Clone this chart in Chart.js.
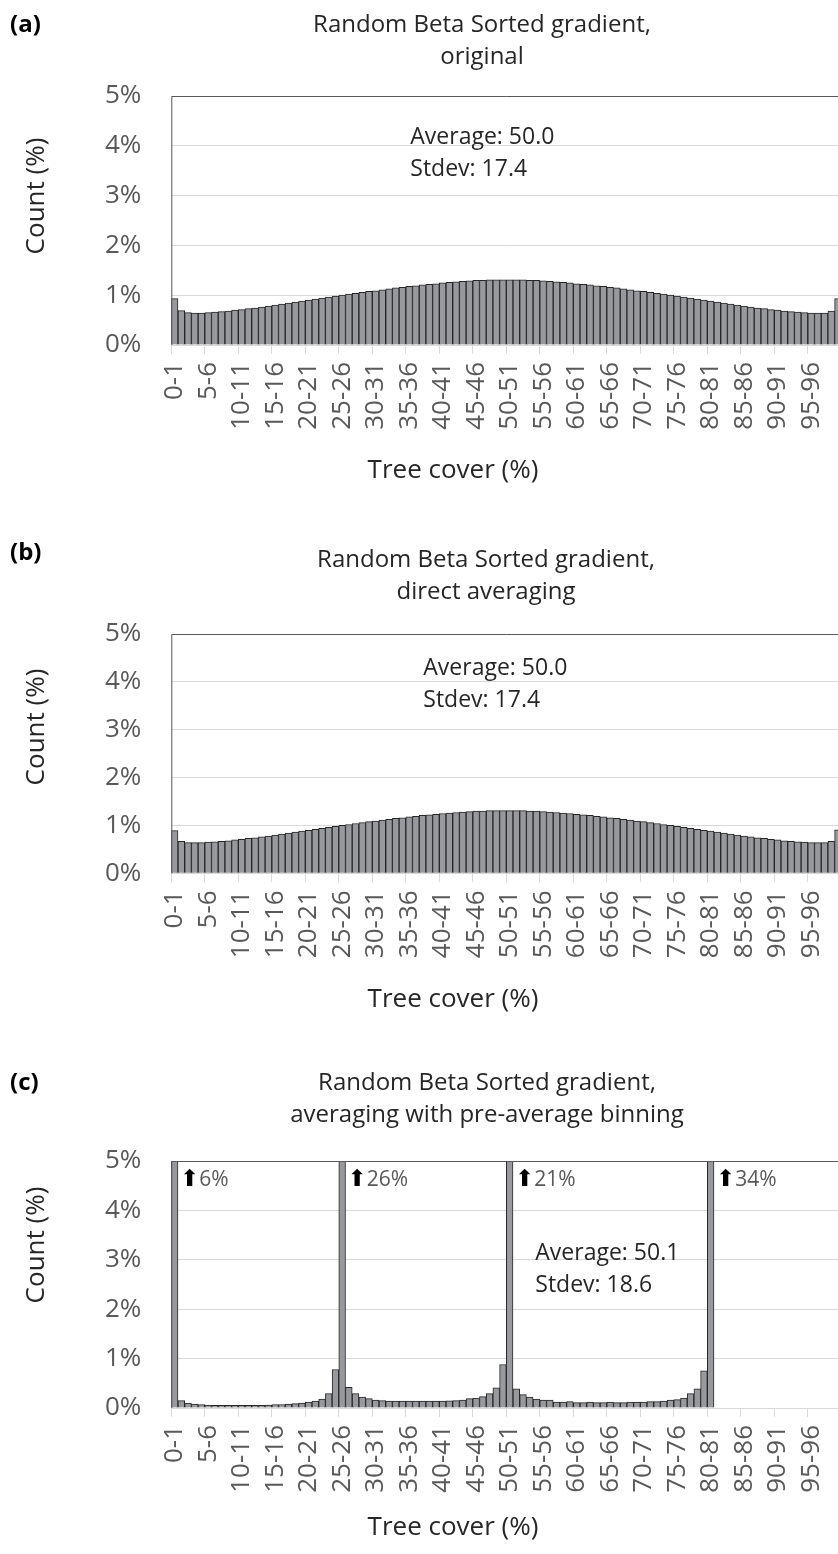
<!DOCTYPE html>
<html>
<head>
<meta charset="utf-8">
<script src="https://cdn.jsdelivr.net/npm/chart.js@4.4.1/dist/chart.umd.min.js"></script>
<style>
html, body { margin: 0; padding: 0; overflow: hidden; background: #fff; }
canvas { display: block; }
</style>
</head>
<body>
<canvas id="chart-a" width="845" height="518"></canvas>
<canvas id="chart-b" width="845" height="518"></canvas>
<canvas id="chart-c" width="845" height="518"></canvas>
<script>
// Bins de cobertura arbórea: 0-1, 1-2, ... 99-100
const bins = [];
for (let i = 0; i < 100; i++) bins.push(i + '-' + (i + 1));

const yTicks = [0, 1, 2, 3, 4, 5];

// (a) original
const countOriginal = [
  0.93, 0.69, 0.65, 0.64, 0.64, 0.65, 0.66, 0.67, 0.68, 0.70,
  0.71, 0.73, 0.74, 0.76, 0.78, 0.80, 0.82, 0.84, 0.86, 0.88,
  0.90, 0.92, 0.94, 0.96, 0.98, 1.00, 1.02, 1.04, 1.06, 1.08,
  1.09, 1.11, 1.13, 1.15, 1.16, 1.18, 1.19, 1.21, 1.22, 1.23,
  1.25, 1.26, 1.27, 1.28, 1.29, 1.30, 1.30, 1.31, 1.31, 1.31,
  1.31, 1.31, 1.31, 1.30, 1.30, 1.29, 1.28, 1.27, 1.26, 1.25,
  1.23, 1.22, 1.21, 1.19, 1.18, 1.16, 1.15, 1.13, 1.11, 1.09,
  1.08, 1.06, 1.04, 1.02, 1.00, 0.98, 0.96, 0.94, 0.92, 0.90,
  0.88, 0.86, 0.84, 0.82, 0.80, 0.78, 0.76, 0.74, 0.73, 0.71,
  0.70, 0.68, 0.67, 0.66, 0.65, 0.64, 0.64, 0.64, 0.68, 0.93
];

// (b) direct averaging
const countDirect = [
  0.89, 0.67, 0.64, 0.64, 0.64, 0.65, 0.66, 0.67, 0.68, 0.70,
  0.71, 0.73, 0.74, 0.76, 0.78, 0.80, 0.82, 0.84, 0.86, 0.88,
  0.90, 0.92, 0.94, 0.96, 0.98, 1.00, 1.02, 1.04, 1.06, 1.08,
  1.09, 1.11, 1.13, 1.15, 1.16, 1.18, 1.19, 1.21, 1.22, 1.23,
  1.25, 1.26, 1.27, 1.28, 1.29, 1.30, 1.30, 1.31, 1.31, 1.31,
  1.31, 1.31, 1.31, 1.30, 1.30, 1.29, 1.28, 1.27, 1.26, 1.25,
  1.23, 1.22, 1.21, 1.19, 1.18, 1.16, 1.15, 1.13, 1.11, 1.09,
  1.08, 1.06, 1.04, 1.02, 1.00, 0.98, 0.96, 0.94, 0.92, 0.90,
  0.88, 0.86, 0.84, 0.82, 0.80, 0.78, 0.76, 0.74, 0.73, 0.71,
  0.70, 0.68, 0.67, 0.66, 0.65, 0.64, 0.64, 0.64, 0.67, 0.91
];

// (c) averaging with pre-average binning (picos fuera de escala: 6, 26, 21, 34 %)
const countBinned = [
  6, 0.15, 0.10, 0.08, 0.07, 0.06, 0.055, 0.055, 0.055, 0.055,
  0.055, 0.055, 0.055, 0.055, 0.06, 0.07, 0.07, 0.08, 0.09, 0.10,
  0.12, 0.14, 0.18, 0.29, 0.78, 26, 0.42, 0.29, 0.22, 0.19,
  0.16, 0.15, 0.14, 0.14, 0.14, 0.14, 0.14, 0.14, 0.14, 0.14,
  0.14, 0.145, 0.15, 0.16, 0.19, 0.20, 0.23, 0.29, 0.41, 0.88,
  21, 0.39, 0.27, 0.22, 0.18, 0.16, 0.16, 0.12, 0.12, 0.13,
  0.11, 0.11, 0.12, 0.11, 0.11, 0.12, 0.11, 0.11, 0.12, 0.12,
  0.12, 0.13, 0.13, 0.14, 0.16, 0.17, 0.20, 0.29, 0.39, 0.75,
  34, 0, 0, 0, 0, 0, 0, 0, 0, 0,
  0, 0, 0, 0, 0, 0, 0, 0, 0, 0
];

const titleA = ['Random Beta Sorted gradient,', 'original'];
const titleB = ['Random Beta Sorted gradient,', 'direct averaging'];
const titleC = ['Random Beta Sorted gradient,', 'averaging with pre-average binning'];
const statsA = ['Average: 50.0', 'Stdev: 17.4'];
const statsB = ['Average: 50.0', 'Stdev: 17.4'];
const statsC = ['Average: 50.1', 'Stdev: 18.6'];

const FONT = "'Open Sans', sans-serif";
Chart.defaults.font.family = FONT;

// Textos y marco de cada panel
const panels = {
  'chart-a': { letter: '(a)', letterY: 25, title: titleA, titleX: 482, titleY: 25,
               xTitleY: 471, yTitleY: 196, stats: statsA, statsDx: 239, statsDy: 41,
               top: 96, bottom: 345, data: countOriginal },
  'chart-b': { letter: '(b)', letterY: 35, title: titleB, titleX: 486, titleY: 42,
               xTitleY: 482, yTitleY: 209, stats: statsB, statsDx: 252, statsDy: 34,
               top: 116, bottom: 355.3, data: countDirect },
  'chart-c': { letter: '(c)', letterY: 47, title: titleC, titleX: 487, titleY: 47,
               xTitleY: 492, yTitleY: 209, stats: statsC, statsDx: 364, statsDy: 92,
               top: 125, bottom: 372, data: countBinned }
};

const panelText = {
  id: 'panelText',
  afterDatasetsDraw(chart) {
    const ctx = chart.ctx, a = chart.chartArea;
    ctx.save();
    ctx.strokeStyle = '#595959';
    ctx.lineWidth = 1;
    ctx.beginPath();
    ctx.moveTo(a.left + 0.5, a.bottom);
    ctx.lineTo(a.left + 0.5, a.top + 0.5);
    ctx.lineTo(a.right - 0.5, a.top + 0.5);
    ctx.lineTo(a.right - 0.5, a.bottom);
    ctx.stroke();
    ctx.restore();
  },
  afterDraw(chart) {
    const p = panels[chart.canvas.id];
    const ctx = chart.ctx, a = chart.chartArea;
    const xs = chart.scales.x, ys = chart.scales.y;
    ctx.save();
    ctx.textBaseline = 'middle';

    ctx.fillStyle = '#000';
    ctx.font = 'bold 24px ' + FONT;
    ctx.textAlign = 'left';
    ctx.fillText(p.letter, 10, p.letterY);

    ctx.fillStyle = '#262626';
    ctx.font = '24px ' + FONT;
    ctx.textAlign = 'center';
    p.title.forEach((t, i) => ctx.fillText(t, p.titleX, p.titleY + i * 32));

    ctx.font = '26px ' + FONT;
    ctx.fillText('Tree cover (%)', 453, p.xTitleY);
    ctx.save();
    ctx.translate(37, p.yTitleY);
    ctx.rotate(-Math.PI / 2);
    ctx.fillText('Count (%)', 0, 0);
    ctx.restore();

    ctx.font = '23px ' + FONT;
    ctx.textAlign = 'left';
    p.stats.forEach((t, i) => ctx.fillText(t, a.left + p.statsDx, a.top + p.statsDy + i * 32));

    // flechas para barras fuera de escala
    const barW = xs.width / bins.length;
    p.data.forEach((v, i) => {
      if (v <= ys.max) return;
      const x = xs.getPixelForValue(i) + barW / 2 + 2;
      const y = a.top + 19;
      ctx.fillStyle = '#000';
      ctx.font = '23px "DejaVu Sans"';
      ctx.fillText('\u2B06', x, y);
      const w = ctx.measureText('\u2B06').width;
      ctx.fillStyle = '#595959';
      ctx.font = '21px ' + FONT;
      ctx.fillText(v + '%', x + w, y);
    });
    ctx.restore();
  }
};

function makeChart(id) {
  const p = panels[id];
  new Chart(document.getElementById(id), {
    type: 'bar',
    data: {
      labels: bins,
      datasets: [{
        data: p.data,
        backgroundColor: '#98999d',
        borderColor: '#262626',
        borderWidth: 1,
        barPercentage: 1,
        categoryPercentage: 1
      }]
    },
    options: {
      responsive: false,
      animation: false,
      devicePixelRatio: 1,
      layout: { padding: { top: p.top, right: 3.7, left: 0, bottom: 0 } },
      plugins: { legend: { display: false }, tooltip: { enabled: false } },
      scales: {
        x: {
          offset: true,
          afterFit: s => {
            s.height = 518 - p.bottom;
            s.paddingLeft = 0;
            s.paddingRight = 0;
          },
          grid: {
            offset: true,
            drawOnChartArea: false,
            tickLength: 9,
            color: c => (c.index % 5 === 0 ? '#d9d9d9' : 'rgba(0,0,0,0)')
          },
          border: { color: '#d9d9d9' },
          ticks: {
            autoSkip: false,
            minRotation: 90,
            maxRotation: 90,
            padding: 8,
            color: '#595959',
            font: { size: 26 },
            callback: (v, i) => (i % 5 === 0 ? bins[i] : '')
          }
        },
        y: {
          min: yTicks[0],
          max: yTicks[yTicks.length - 1],
          afterFit: s => { s.width = 171.3; },
          afterBuildTicks: s => { s.ticks = yTicks.map(v => ({ value: v })); },
          grid: { color: '#d9d9d9', drawTicks: false },
          border: { display: false },
          ticks: {
            padding: 30,
            color: '#595959',
            font: { size: 26 },
            callback: v => v + '%'
          }
        }
      }
    },
    plugins: [panelText]
  });
}

window.onload = function () {
  makeChart('chart-a');
  makeChart('chart-b');
  makeChart('chart-c');
};
</script>
</body>
</html>
